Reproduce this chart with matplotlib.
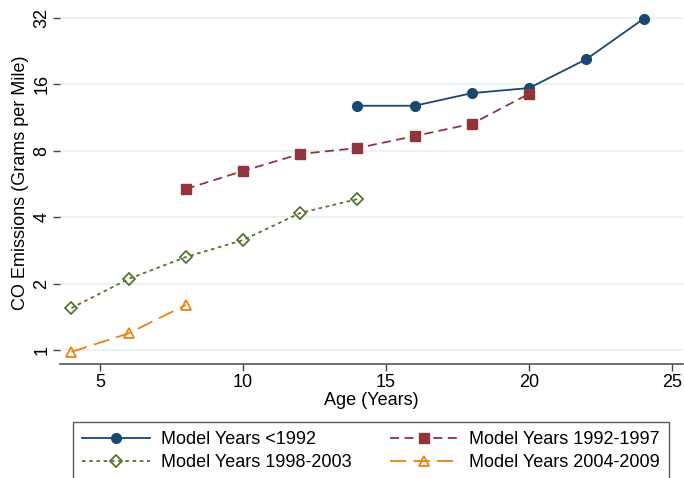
import matplotlib
matplotlib.use("Agg")
import matplotlib.pyplot as plt
from matplotlib.ticker import FixedLocator, NullLocator

plt.rcParams['font.family'] = ['Liberation Sans', 'DejaVu Sans']

age_a = [14, 16, 18, 20, 22, 24]
co_a = [12.8, 12.8, 14.6, 15.4, 20.8, 31.7]
age_b = [8, 10, 12, 14, 16, 18, 20]
co_b = [5.37, 6.48, 7.74, 8.23, 9.33, 10.6, 14.5]
age_c = [4, 6, 8, 10, 12, 14]
co_c = [1.55, 2.10, 2.64, 3.15, 4.18, 4.83]
age_d = [4, 6, 8]
co_d = [0.98, 1.19, 1.60]

labels = ["Model Years <1992", "Model Years 1992-1997",
          "Model Years 1998-2003", "Model Years 2004-2009"]
xticks = [5, 10, 15, 20, 25]
yticks = [1, 2, 4, 8, 16, 32]

navy = "#1a476f"
maroon = "#90353b"
green = "#55752f"
orange = "#e8850c"
FS = 13

fig = plt.figure(figsize=(6.84, 4.78), dpi=100)
ax = fig.add_axes([60/684, 1-364/478, 623/684, 362/478])

ax.set_yscale('log', base=2)
ax.set_xlim(3.60, 25.38)
ax.set_ylim(0.864, 37.8)

for y in yticks:
    ax.axhline(y, color="#eaf2f3", lw=1.6, zorder=0)

h1, = ax.plot(age_a, co_a, color=navy, lw=1.3, marker='o', ms=7,
              mfc=navy, mec=navy, label=labels[0])
h2, = ax.plot(age_b, co_b, color=maroon, lw=1.3, ls=(0, (5, 3)), marker='s', ms=6.5,
              mfc=maroon, mec=maroon, label=labels[1])
h3, = ax.plot(age_c, co_c, color=green, lw=1.3, ls=(0, (2, 2)), marker='D', ms=6,
              mfc='none', mec=green, mew=1.3, label=labels[2])
h4, = ax.plot(age_d, co_d, color=orange, lw=1.3, ls=(0, (9, 4)), marker='^', ms=7.5,
              mfc='none', mec=orange, mew=1.3, label=labels[3])

ax.yaxis.set_major_locator(FixedLocator(yticks))
ax.yaxis.set_minor_locator(NullLocator())
ax.set_yticklabels([str(y) for y in yticks], rotation=90, va='center', fontsize=FS)
ax.xaxis.set_major_locator(FixedLocator(xticks))
ax.set_xticklabels([str(x) for x in xticks], fontsize=FS)

for s in ['top', 'right', 'left']:
    ax.spines[s].set_visible(False)
ax.spines['bottom'].set_color('#555555')
ax.spines['bottom'].set_linewidth(1.2)
ax.tick_params(axis='both', length=5, width=1, color='#444444', pad=2)

ax.set_xlabel("Age (Years)", fontsize=FS, labelpad=1)
ax.set_ylabel("CO Emissions (Grams per Mile)", fontsize=FS, labelpad=3)

leg = fig.legend(handles=[h1, h3, h2, h4], loc='upper left',
                 bbox_to_anchor=(73/684, 0/478, 596/684, (478-422)/478), mode='expand',
                 ncol=2, fontsize=FS, frameon=True, fancybox=False,
                 handlelength=3.75, handletextpad=0.65, columnspacing=2.0,
                 borderpad=0.5, labelspacing=0.35, borderaxespad=0)
leg.get_frame().set_edgecolor('#333333')
leg.get_frame().set_linewidth(1.0)

fig.savefig("out.png", dpi=100)
